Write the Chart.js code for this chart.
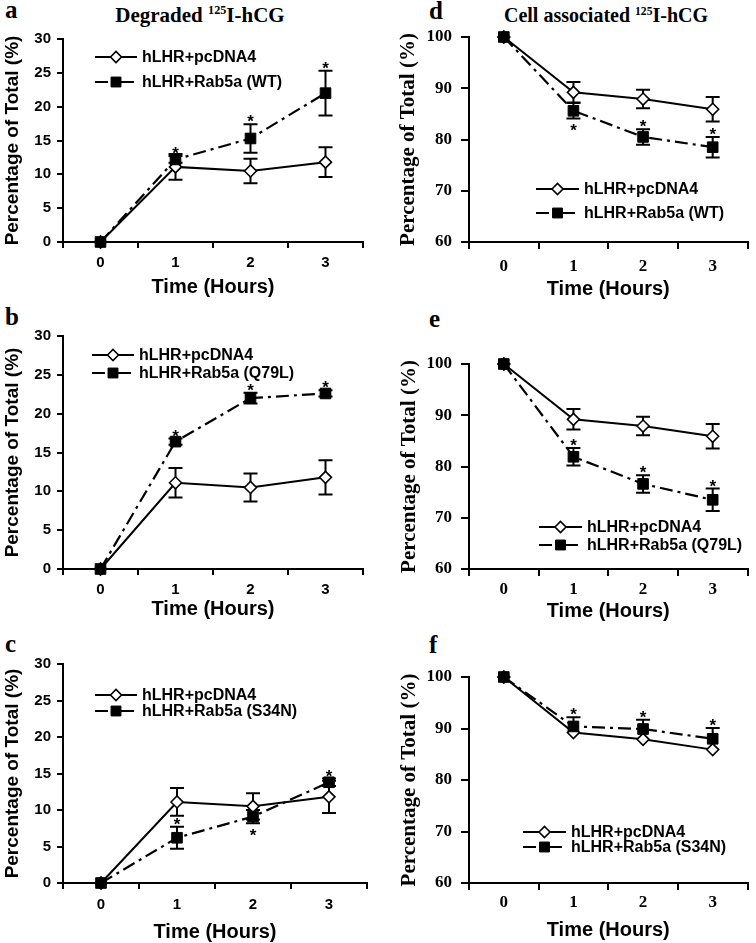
<!DOCTYPE html>
<html>
<head>
<meta charset="utf-8">
<title>Degraded and cell associated 125I-hCG</title>
<script src="https://cdn.jsdelivr.net/npm/chart.js@4.4.1/dist/chart.umd.min.js"></script>
<style>
html,body{margin:0;padding:0;background:#fff;}
#fig{position:relative;width:756px;height:943px;overflow:hidden;background:#fff;}
#fig canvas{position:absolute;left:0;top:0;}
.t{position:absolute;font-family:"Liberation Serif","Times New Roman",serif;font-weight:bold;color:#000;white-space:nowrap;line-height:1;}
.t sup{font-size:0.58em;vertical-align:0;position:relative;top:-0.62em;}
</style>
</head>
<body>
<div id="fig">
  <div class="t" style="left:5px;top:-3px;font-size:25px;">a</div>
  <div class="t" style="left:5px;top:304px;font-size:25px;">b</div>
  <div class="t" style="left:5px;top:631px;font-size:25px;">c</div>
  <div class="t" style="left:429px;top:-2px;font-size:25px;">d</div>
  <div class="t" style="left:429px;top:306px;font-size:25px;">e</div>
  <div class="t" style="left:429px;top:632px;font-size:25px;">f</div>
  <div class="t" style="left:50px;width:300px;text-align:center;top:5px;font-size:21px;">Degraded <sup>125</sup>I-hCG</div>
  <div class="t" style="left:456px;width:300px;text-align:center;top:5px;font-size:20px;">Cell associated <sup>125</sup>I-hCG</div>
</div>
<script>
// ---------------- data ----------------
const hours = ['0', '1', '2', '3'];
const controlName = 'hLHR+pcDNA4';
const wtName = 'hLHR+Rab5a (WT)';
const q79lName = 'hLHR+Rab5a (Q79L)';
const s34nName = 'hLHR+Rab5a (S34N)';
const degradedTicks = [0, 5, 10, 15, 20, 25, 30];
const cellTicks = [60, 70, 80, 90, 100];
const yTitle = 'Percentage of Total (%)';
const xTitle = 'Time (Hours)';

// Degraded 125I-hCG (%)
const ctrlDeg = [0, 11.1, 10.5, 11.8];
const ctrlDegErr = [0, 1.9, 1.8, 2.2];
const wtDeg = [0, 12.2, 15.3, 22.0];
const wtDegErr = [0, 0.5, 2.1, 3.3];
const wtDegStars = ['', 'above', 'above', 'above'];
const q79lDeg = [0, 16.4, 22.0, 22.6];
const q79lDegErr = [0, 0.4, 0.7, 0.4];
const q79lDegStars = ['', 'above', 'above', 'above'];
const s34nDeg = [0, 6.2, 9.1, 13.8];
const s34nDegErr = [0, 1.5, 0.9, 0.5];
const s34nDegStars = ['', 'above', 'below', 'above'];

// Cell associated 125I-hCG (%)
const ctrlCell = [100, 89.2, 87.9, 85.9];
const ctrlCellErr = [0, 2.0, 1.8, 2.4];
const wtCell = [100, 85.6, 80.5, 78.5];
const wtCellErr = [0, 1.5, 1.5, 2.0];
const wtCellStars = ['', 'below', 'above', 'above'];
const q79lCell = [100, 81.9, 76.6, 73.5];
const q79lCellErr = [0, 1.7, 1.7, 2.2];
const q79lCellStars = ['', 'above', 'above', 'above'];
const s34nCell = [100, 90.4, 89.9, 88.0];
const s34nCellErr = [0, 1.8, 1.8, 2.1];
const s34nCellStars = ['', 'above', 'above', 'above'];

// ---------------- drawing ----------------
const SANS = '"Liberation Sans", Arial, sans-serif';
const SERIF = '"Liberation Serif", "Times New Roman", serif';
const W = 756, H = 943;
const fig = document.getElementById('fig');

const extrasPlugin = {
  id: 'extras',
  beforeDatasetsDraw(chart) {
    const {ctx} = chart;
    const x = chart.scales.x, y = chart.scales.y;
    chart.data.datasets.forEach(ds => {
      if (!ds.err) return;
      ctx.save();
      ctx.strokeStyle = '#000';
      ctx.lineWidth = 2;
      ctx.setLineDash([]);
      ds.data.forEach((v, i) => {
        const e = ds.err[i];
        if (!e) return;
        const px = x.getPixelForValue(i);
        const yt = y.getPixelForValue(v + e);
        const yb = ds.errDir === 'plus' ? y.getPixelForValue(v) : y.getPixelForValue(v - e);
        const cap = 7;
        ctx.beginPath();
        ctx.moveTo(px, yt); ctx.lineTo(px, yb);
        ctx.moveTo(px - cap, yt); ctx.lineTo(px + cap, yt);
        if (ds.errDir !== 'plus') { ctx.moveTo(px - cap, yb); ctx.lineTo(px + cap, yb); }
        ctx.stroke();
      });
      ctx.restore();
    });
  },
  afterDatasetsDraw(chart) {
    const {ctx} = chart;
    const x = chart.scales.x, y = chart.scales.y;
    chart.data.datasets.forEach(ds => {
      if (!ds.stars) return;
      ctx.save();
      ctx.fillStyle = '#000';
      ctx.font = 'bold 17px ' + SANS;
      ctx.textAlign = 'center';
      ctx.textBaseline = 'alphabetic';
      ds.stars.forEach((s, i) => {
        if (!s) return;
        const v = ds.data[i];
        const e = (ds.err && ds.err[i]) || 0;
        const px = x.getPixelForValue(i);
        let cy;
        if (s === 'above') cy = y.getPixelForValue(v + e) - 7;
        else cy = y.getPixelForValue(v - e) + 8;
        ctx.fillText('*', px, cy + 10);
      });
      ctx.restore();
    });
  },
  afterDraw(chart, args, opts) {
    const lg = opts.legend;
    if (!lg) return;
    const {ctx} = chart;
    const order = [1, 0];
    order.forEach((di, row) => {
      const ds = chart.data.datasets[di];
      const yy = lg.rows[row];
      ctx.save();
      ctx.strokeStyle = '#000';
      ctx.lineWidth = ds.borderWidth;
      ctx.setLineDash(ds.borderDash || []);
      ctx.beginPath();
      ctx.moveTo(lg.x, yy);
      ctx.lineTo(lg.x + lg.len, yy);
      ctx.stroke();
      ctx.setLineDash([]);
      ctx.fillStyle = ds.pointBackgroundColor;
      ctx.strokeStyle = '#000';
      ctx.lineWidth = ds.pointBorderWidth;
      Chart.helpers.drawPoint(ctx, {
        pointStyle: ds.pointStyle,
        radius: ds.pointStyle === 'rect' ? 7 : 5.5,
        borderWidth: ds.pointBorderWidth,
        rotation: 0
      }, lg.x + lg.len / 2, yy);
      ctx.fillStyle = '#000';
      ctx.font = 'bold 16px ' + SANS;
      ctx.textAlign = 'left';
      ctx.textBaseline = 'middle';
      ctx.fillText(ds.label, lg.x + lg.len + 5, yy + 1);
      ctx.restore();
    });
  }
};

function makePanel(p) {
  const cv = document.createElement('canvas');
  cv.width = W; cv.height = H;
  cv.style.width = W + 'px'; cv.style.height = H + 'px';
  fig.appendChild(cv);
  const tickFont = p.serif
    ? {family: SERIF, size: 17, weight: 'bold', lineHeight: 1.2}
    : {family: SANS, size: 15, weight: 'bold', lineHeight: 1.2};
  const yTitleFont = p.serif
    ? {family: SERIF, size: 21, weight: 'bold', lineHeight: 1.2}
    : {family: SANS, size: 19, weight: 'bold', lineHeight: 1.2};
  const xTitleFont = {family: SANS, size: 20, weight: 'bold', lineHeight: 1.2};
  const yTl = p.serif ? 8 : 6;
  const xTl = p.serif ? 7 : 6;
  const yPad = p.serif ? 9 : 6;
  const a = p.area;
  const yW = a.L - (p.yTitleX - yTitleFont.size * 1.2 / 2);
  const xH = (p.xTitleY - a.B) + xTitleFont.size * 1.2 / 2;
  const xTickPad = p.xLabelY - a.B - xTl - tickFont.size * 1.2 / 2;
  const ticks = p.ticks;

  new Chart(cv, {
    type: 'line',
    data: {
      labels: hours,
      datasets: [
        {
          label: p.trtName, data: p.trt, err: p.trtErr, errDir: p.trtErrDir || 'both', stars: p.trtStars,
          order: 0, borderColor: '#000', borderWidth: 2.2, borderDash: [13, 5, 3, 5],
          pointStyle: 'rect', pointRadius: 7.5, pointBackgroundColor: '#000', pointBorderColor: '#000',
          pointBorderWidth: 1, clip: false, tension: 0, fill: false
        },
        {
          label: controlName, data: p.ctrl, err: p.ctrlErr, errDir: 'both',
          order: 1, borderColor: '#000', borderWidth: 2, borderDash: [],
          pointStyle: 'rectRot', pointRadius: 6, pointBackgroundColor: '#fff', pointBorderColor: '#000',
          pointBorderWidth: 1.6, clip: false, tension: 0, fill: false
        }
      ]
    },
    options: {
      responsive: false,
      maintainAspectRatio: false,
      animation: false,
      events: [],
      devicePixelRatio: 1,
      layout: {padding: {left: a.L - yW, top: a.T, right: W - a.R, bottom: H - a.B - xH}},
      plugins: {
        legend: {display: false},
        tooltip: {enabled: false},
        title: {display: false},
        extras: {legend: p.legend}
      },
      scales: {
        x: {
          type: 'category',
          offset: true,
          grid: {display: true, offset: true, drawOnChartArea: false, drawTicks: true, tickLength: xTl, color: '#000', lineWidth: 2},
          border: {display: true, color: '#000', width: 2},
          ticks: {color: '#000', font: tickFont, padding: xTickPad, maxRotation: 0, autoSkip: false},
          title: {display: true, text: xTitle, color: '#000', font: xTitleFont, padding: 0},
          afterFit: s => { s.height = xH; }
        },
        y: {
          type: 'linear',
          min: ticks[0],
          max: ticks[ticks.length - 1],
          afterBuildTicks: s => { s.ticks = ticks.map(v => ({value: v})); },
          grid: {display: true, drawOnChartArea: false, drawTicks: true, tickLength: yTl, color: '#000', lineWidth: 2},
          border: {display: true, color: '#000', width: 2},
          ticks: {color: '#000', font: tickFont, padding: yPad},
          title: {display: true, text: yTitle, color: '#000', font: yTitleFont, padding: 0},
          afterFit: s => { s.width = yW; }
        }
      }
    },
    plugins: [extrasPlugin]
  });
}

const panels = [
  {ctrl: ctrlDeg, ctrlErr: ctrlDegErr, trt: wtDeg, trtErr: wtDegErr, trtStars: wtDegStars, trtName: wtName,
   ticks: degradedTicks, serif: false, area: {L: 63, R: 363, T: 39, B: 242},
   yTitleX: 12.5, xLabelY: 263, xTitleY: 287, legend: {x: 95, len: 42, rows: [57, 82]}},
  {ctrl: ctrlDeg, ctrlErr: ctrlDegErr, trt: q79lDeg, trtErr: q79lDegErr, trtStars: q79lDegStars, trtName: q79lName,
   ticks: degradedTicks, serif: false, area: {L: 63, R: 363, T: 336, B: 569},
   yTitleX: 12.5, xLabelY: 590, xTitleY: 609, legend: {x: 92, len: 42, rows: [355, 373]}},
  {ctrl: ctrlDeg, ctrlErr: ctrlDegErr, trt: s34nDeg, trtErr: s34nDegErr, trtStars: s34nDegStars, trtName: s34nName,
   ticks: degradedTicks, serif: false, area: {L: 63, R: 367, T: 664, B: 883},
   yTitleX: 12.5, xLabelY: 905, xTitleY: 932, legend: {x: 95, len: 42, rows: [695, 711]}},
  {ctrl: ctrlCell, ctrlErr: ctrlCellErr, trt: wtCell, trtErr: wtCellErr, trtStars: wtCellStars, trtName: wtName,
   ticks: cellTicks, serif: true, area: {L: 469, R: 753, T: 37, B: 242},
   yTitleX: 409, xLabelY: 267, xTitleY: 289, legend: {x: 536, len: 43, rows: [189, 213]}},
  {ctrl: ctrlCell, ctrlErr: ctrlCellErr, trt: q79lCell, trtErr: q79lCellErr, trtStars: q79lCellStars, trtName: q79lName,
   ticks: cellTicks, serif: true, area: {L: 469, R: 752, T: 364, B: 569},
   yTitleX: 410, xLabelY: 590, xTitleY: 611, legend: {x: 539, len: 43, rows: [527, 545]}},
  {ctrl: ctrlCell, ctrlErr: null, trt: s34nCell, trtErr: s34nCellErr, trtErrDir: 'plus', trtStars: s34nCellStars, trtName: s34nName,
   ticks: cellTicks, serif: true, area: {L: 469, R: 749, T: 677, B: 883},
   yTitleX: 409.5, xLabelY: 903, xTitleY: 930, legend: {x: 523, len: 43, rows: [832, 847]}}
];

panels.forEach(makePanel);
</script>
</body>
</html>
